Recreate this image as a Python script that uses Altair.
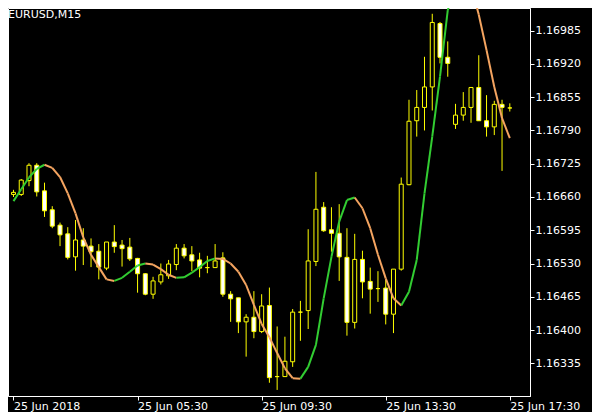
import altair as alt
import pandas as pd

symbol = "EURUSD,M15"

bar_index = list(range(65))

opens = [1.16665, 1.16665, 1.16692, 1.16722, 1.16672, 1.16635, 1.16605, 1.16588, 1.16543, 1.16576,
         1.16564, 1.16554, 1.16521, 1.16572, 1.16566, 1.16562, 1.16540, 1.16510, 1.16470, 1.16494,
         1.16506, 1.16528, 1.16560, 1.16547, 1.16537, 1.16522, 1.16522, 1.16541, 1.16470, 1.16463,
         1.16416, 1.16425, 1.16397, 1.16448, 1.16309, 1.16309, 1.16338, 1.16435, 1.16438, 1.16534,
         1.16640, 1.16596, 1.16589, 1.16542, 1.16415, 1.16538, 1.16495, 1.16481, 1.16482, 1.16431,
         1.16519, 1.16684, 1.16809, 1.16835, 1.16875, 1.16999, 1.16933, 1.16802, 1.16820, 1.16835,
         1.16874, 1.16809, 1.16797, 1.16841, 1.16834]

highs = [1.16674, 1.16695, 1.16726, 1.16726, 1.16688, 1.16642, 1.16610, 1.16601, 1.16615, 1.16599,
         1.16579, 1.16568, 1.16572, 1.16605, 1.16576, 1.16580, 1.16541, 1.16511, 1.16504, 1.16530,
         1.16537, 1.16568, 1.16568, 1.16564, 1.16551, 1.16545, 1.16568, 1.16552, 1.16476, 1.16463,
         1.16431, 1.16476, 1.16470, 1.16483, 1.16407, 1.16387, 1.16441, 1.16457, 1.16597, 1.16709,
         1.16650, 1.16640, 1.16646, 1.16599, 1.16588, 1.16555, 1.16522, 1.16515, 1.16498, 1.16519,
         1.16698, 1.16850, 1.16869, 1.16934, 1.17018, 1.17002, 1.16964, 1.16842, 1.16865, 1.16874,
         1.16937, 1.16859, 1.16848, 1.16850, 1.16843]

lows = [1.16660, 1.16662, 1.16681, 1.16661, 1.16621, 1.16599, 1.16564, 1.16538, 1.16516, 1.16527,
        1.16523, 1.16499, 1.16517, 1.16551, 1.16524, 1.16535, 1.16473, 1.16468, 1.16461, 1.16489,
        1.16500, 1.16517, 1.16540, 1.16515, 1.16503, 1.16511, 1.16522, 1.16465, 1.16416, 1.16394,
        1.16348, 1.16384, 1.16394, 1.16297, 1.16283, 1.16309, 1.16328, 1.16379, 1.16402, 1.16525,
        1.16592, 1.16553, 1.16496, 1.16389, 1.16403, 1.16462, 1.16432, 1.16455, 1.16411, 1.16394,
        1.16516, 1.16683, 1.16778, 1.16790, 1.16829, 1.16921, 1.16895, 1.16793, 1.16809, 1.16805,
        1.16809, 1.16778, 1.16781, 1.16711, 1.16827]

closes = [1.16669, 1.16693, 1.16722, 1.16670, 1.16633, 1.16603, 1.16586, 1.16542, 1.16576, 1.16564,
          1.16553, 1.16523, 1.16572, 1.16563, 1.16559, 1.16539, 1.16510, 1.16470, 1.16496, 1.16508,
          1.16529, 1.16560, 1.16545, 1.16535, 1.16521, 1.16522, 1.16535, 1.16470, 1.16461, 1.16416,
          1.16425, 1.16397, 1.16447, 1.16307, 1.16309, 1.16339, 1.16435, 1.16435, 1.16535, 1.16636,
          1.16594, 1.16589, 1.16543, 1.16415, 1.16538, 1.16494, 1.16480, 1.16481, 1.16431, 1.16519,
          1.16685, 1.16808, 1.16835, 1.16875, 1.17001, 1.16933, 1.16921, 1.16820, 1.16835, 1.16874,
          1.16809, 1.16797, 1.16841, 1.16835, 1.16834]

ma = [1.16652, 1.16675, 1.16698, 1.16715, 1.16723, 1.16717, 1.16699, 1.16667, 1.16628, 1.16581,
      1.16547, 1.16523, 1.16499, 1.16496, 1.16502, 1.16514, 1.16526, 1.16530, 1.16528, 1.16519,
      1.16508, 1.16502, 1.16503, 1.16512, 1.16523, 1.16535, 1.16540, 1.16539, 1.16530, 1.16514,
      1.16488, 1.16449, 1.16412, 1.16386, 1.16355, 1.16325, 1.16306, 1.16305, 1.16328, 1.16371,
      1.16462, 1.16543, 1.16612, 1.16654, 1.16659, 1.16638, 1.16599, 1.16547, 1.16501, 1.16462,
      1.16448, 1.16475, 1.16537, 1.16667, 1.16778, 1.16895, 1.17025, 1.17074, 1.17094, 1.17074,
      1.17016, 1.16947, 1.16875, 1.16814, 1.16775]

y_ticks = [1.16335, 1.16400, 1.16465, 1.16530, 1.16595, 1.16660,
           1.16725, 1.16790, 1.16855, 1.16920, 1.16985]
x_tick_pos = [0, 16, 32, 48, 64]
x_tick_labels = ["25 Jun 2018", "25 Jun 05:30", "25 Jun 09:30", "25 Jun 13:30", "25 Jun 17:30"]

YELLOW = "#FFFF00"
GREEN = "#32CD32"
ORANGE = "#F4A460"
FONT = "DejaVu Sans"

candles = pd.DataFrame({"i": bar_index, "open": opens, "high": highs,
                        "low": lows, "close": closes})
candles["kind"] = ["bear" if c < o else "bull" for o, c in zip(opens, closes)]

seg = pd.DataFrame({"i": bar_index[:-1], "i2": bar_index[1:],
                    "v": ma[:-1], "v2": ma[1:]})
seg["dir"] = ["up" if b > a else "down" for a, b in zip(ma[:-1], ma[1:])]

label_expr = ("[" + ",".join("'%s'" % s for s in x_tick_labels) + "][indexof(["
              + ",".join(str(p) for p in x_tick_pos) + "], datum.value)]")

x_scale = alt.Scale(domain=[-0.0632, 65.96], nice=False, zero=False)
y_scale = alt.Scale(domain=[1.162711, 1.170293], nice=False, zero=False)

x_axis = alt.Axis(values=x_tick_pos, labelExpr=label_expr, labelAlign="left",
                  labelBaseline="top", tickSize=4, labelPadding=0, title=None,
                  grid=False, labelColor="white", tickColor="white",
                  domainColor="white", labelFont=FONT, labelFontSize=11,
                  labelOverlap=False, labelFlush=False, labelBound=False)
y_axis = alt.Axis(orient="right", values=y_ticks, format=".5f", tickSize=4,
                  labelPadding=1, title=None, grid=False, labelColor="white",
                  tickColor="white", domainColor="white", labelFont=FONT,
                  labelFontSize=11, labelOverlap=False, labelBound=False,
                  labelFlush=False)

base = alt.Chart(candles)

wicks = base.mark_rule(color=YELLOW, strokeWidth=1, clip=True).encode(
    x=alt.X("i:Q", scale=x_scale, axis=x_axis),
    y=alt.Y("low:Q", scale=y_scale, axis=y_axis),
    y2="high:Q",
)

bodies = base.mark_bar(size=4, stroke=YELLOW, strokeWidth=1, clip=True).encode(
    x=alt.X("i:Q", scale=x_scale, axis=x_axis),
    y=alt.Y("open:Q", scale=y_scale, axis=y_axis),
    y2="close:Q",
    fill=alt.Fill("kind:N", scale=alt.Scale(domain=["bull", "bear"],
                                            range=["#000000", "#FFFFFF"]), legend=None),
)

line = alt.Chart(seg).mark_rule(strokeWidth=2, clip=True).encode(
    x=alt.X("i:Q", scale=x_scale, axis=x_axis),
    x2="i2:Q",
    y=alt.Y("v:Q", scale=y_scale, axis=y_axis),
    y2="v2:Q",
    color=alt.Color("dir:N", scale=alt.Scale(domain=["up", "down"],
                                             range=[GREEN, ORANGE]), legend=None),
)

title = alt.Chart(pd.DataFrame({"t": [symbol]})).mark_text(
    align="left", baseline="alphabetic", color="white", font=FONT, fontSize=11
).encode(x=alt.value(0), y=alt.value(10), text="t:N")

chart = alt.layer(wicks, bodies, line, title).properties(
    width=522, height=388,
    background="black",
    autosize=alt.AutoSizeParams(type="none"),
    padding={"left": 0, "top": 0, "right": 62, "bottom": 16},
).configure_view(fill="black", stroke="white", strokeWidth=1
).configure_axis(labelOverlap=False, labelFlush=False)

chart.save("out.html", embed_options={"renderer": "svg", "actions": False})
